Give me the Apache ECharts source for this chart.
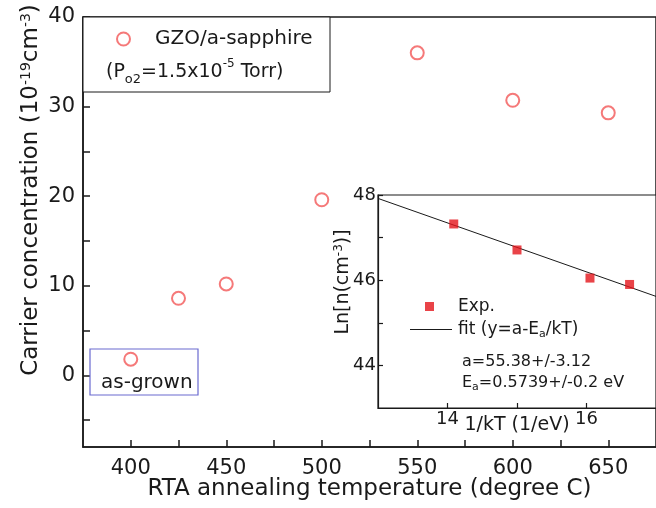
<!DOCTYPE html>
<html><head><meta charset="utf-8">
<script src="https://cdn.jsdelivr.net/npm/echarts@6/dist/echarts.min.js"></script>
<style>html,body{margin:0;padding:0;background:#fff}#c{width:656px;height:508px}</style>
</head><body><div id="c"></div>
<script>
// Main chart data
const temps = [400, 425, 450, 500, 550, 600, 650];
const carrier = [1.8, 8.6, 10.2, 19.6, 36.0, 30.7, 29.3];
const xTickLabels = [400, 450, 500, 550, 600, 650];
const xTicks = [400, 425, 450, 475, 500, 525, 550, 575, 600, 625, 650];
const yTickLabels = [0, 10, 20, 30, 40];
const yTicks = [-5, 0, 5, 10, 15, 20, 25, 30, 35, 40];
// Inset data
const invKT = [14.09, 15.0, 16.05, 16.62];
const lnN = [47.32, 46.71, 46.05, 45.9];
const fitX = [13, 17];
const fitY = [47.92, 45.62];
const insetXTickLabels = [14, 16];
const insetXTicks = [14, 15, 16];
const insetYTickLabels = [44, 46, 48];
const insetYTicks = [44, 45, 46, 47, 48];

const FF = 'DejaVu Sans';
const INK = '#1a1a1a';
const RED_O = '#f25858';
const RED_S = '#e3141a';
const chart = echarts.init(document.getElementById('c'));

const axisCommon = {
  axisLine: { show: true, onZero: false, lineStyle: { color: INK, width: 1.5 } },
  splitLine: { show: false },
};

chart.setOption({
  animation: false,
  backgroundColor: '#fff',
  grid: [
    { left: 83, top: 17, width: 576, height: 430, show: true, backgroundColor: '#fff', borderColor: INK, borderWidth: 1.5 },
    { left: 378, top: 195, width: 282, height: 213, show: true, backgroundColor: '#fff', borderColor: INK, borderWidth: 1.2 }
  ],
  xAxis: [
    Object.assign({}, axisCommon, {
      type: 'value', gridIndex: 0, min: 375, max: 675,
      axisTick: { show: true, inside: true, length: 7, customValues: xTicks, lineStyle: { color: INK, width: 1.5 } },
      axisLabel: { customValues: xTickLabels, fontSize: 21, fontFamily: FF, color: INK, margin: 11 },
      name: 'RTA annealing temperature (degree C)', nameLocation: 'middle', nameGap: 31, nameMoveOverlap: false,
      nameTextStyle: { fontSize: 23, fontFamily: FF, color: INK }
    }),
    Object.assign({}, axisCommon, {
      type: 'value', gridIndex: 1, min: 13, max: 17,
      axisLine: { show: true, onZero: false, lineStyle: { color: INK, width: 1.2 } },
      axisTick: { show: true, inside: true, length: 5, customValues: insetXTicks, lineStyle: { color: INK, width: 1.2 } },
      axisLabel: { customValues: insetXTickLabels, fontSize: 18, fontFamily: FF, color: INK, margin: 2 },
      name: '1/kT (1/eV)', nameLocation: 'middle', nameGap: 8, nameMoveOverlap: false,
      nameTextStyle: { fontSize: 19, fontFamily: FF, color: INK }
    })
  ],
  yAxis: [
    Object.assign({}, axisCommon, {
      type: 'value', gridIndex: 0, min: -8, max: 40,
      axisTick: { show: true, inside: true, length: 7, customValues: yTicks, lineStyle: { color: INK, width: 1.5 } },
      axisLabel: { customValues: yTickLabels, fontSize: 21, fontFamily: FF, color: INK, margin: 8 }
    }),
    Object.assign({}, axisCommon, {
      type: 'value', gridIndex: 1, min: 43, max: 48,
      axisLine: { show: true, onZero: false, lineStyle: { color: INK, width: 1.2 } },
      axisTick: { show: true, inside: true, length: 5, customValues: insetYTicks, lineStyle: { color: INK, width: 1.2 } },
      axisLabel: { customValues: insetYTickLabels, fontSize: 18, fontFamily: FF, color: INK, margin: 2 }
    })
  ],
  legend: [
    {
      data: ['GZO/a-sapphire'], left: 116, top: 29, itemWidth: 13, itemHeight: 13,
      selectedMode: false, padding: 0,
      textStyle: { fontSize: 20, fontFamily: FF, color: INK, padding: [0, 0, 0, 20] }
    },
    {
      data: [{ name: 'Exp.', icon: 'rect' }], left: 425, top: 298, itemWidth: 9, itemHeight: 9,
      selectedMode: false, padding: 0,
      textStyle: { fontSize: 17, fontFamily: FF, color: INK, padding: [0, 0, 0, 19] }
    },
    {
      data: [{ name: 'fit', icon: 'rect' }], left: 410, top: 321, itemWidth: 42, itemHeight: 1.2,
      selectedMode: false, padding: 0,
      formatter: () => '{t|fit (y=a-E}{s|a}{t|/kT)}',
      textStyle: { fontSize: 17, fontFamily: FF, color: INK, padding: [0, 0, 0, 1],
        rich: { t: { fontSize: 17, fontFamily: FF, color: INK }, s: { fontSize: 11, fontFamily: FF, color: INK, verticalAlign: 'bottom', padding: [9, 0, 0, 0] } } }
    }
  ],
  series: [
    {
      name: 'GZO/a-sapphire', type: 'scatter', xAxisIndex: 0, yAxisIndex: 0,
      data: temps.map((t, i) => [t, carrier[i]]),
      symbol: 'emptyCircle', symbolSize: 13,
      itemStyle: { color: RED_O, borderColor: RED_O, borderWidth: 1.4 }
    },
    {
      name: 'Exp.', type: 'scatter', xAxisIndex: 1, yAxisIndex: 1,
      data: invKT.map((x, i) => [x, lnN[i]]),
      symbol: 'rect', symbolSize: 9, z: 5,
      itemStyle: { color: RED_S }
    },
    {
      name: 'fit', type: 'line', xAxisIndex: 1, yAxisIndex: 1,
      data: fitX.map((x, i) => [x, fitY[i]]),
      symbol: 'none', lineStyle: { color: INK, width: 1 }, itemStyle: { color: INK }
    }
  ],
  graphic: [
    { type: 'rect', z: 3, shape: { x: 83, y: 17, width: 247, height: 75 },
      style: { fill: '#fff', stroke: INK, lineWidth: 1 } },
    { type: 'text', z: 10, x: 106, y: 72,
      style: { text: '{t|(P}{sub|o2}{t|=1.5x10}{sup|-5}{t| Torr)}', align: 'left', verticalAlign: 'middle',
        rich: { t: { fontSize: 19, fontFamily: FF, fill: INK }, sub: { fontSize: 13, fontFamily: FF, fill: INK, verticalAlign: 'bottom', padding: [15, 0, 0, 0] }, sup: { fontSize: 12, fontFamily: FF, fill: INK, verticalAlign: 'top', padding: [0, 0, 8, 0] } } } },
    { type: 'rect', z: 3, shape: { x: 90, y: 349, width: 108, height: 46 },
      style: { fill: 'none', stroke: '#6a6ad0', lineWidth: 1.2 } },
    { type: 'text', z: 10, x: 101, y: 383,
      style: { text: 'as-grown', align: 'left', verticalAlign: 'middle', fontSize: 20, fontFamily: FF, fill: INK } },
    { type: 'text', z: 10, x: 31, y: 190, rotation: Math.PI / 2,
      style: { text: '{t|Carrier concentration (10}{sup|-19}{t|cm}{sup|-3}{t|)}', align: 'center', verticalAlign: 'middle',
        rich: { t: { fontSize: 23, fontFamily: FF, fill: INK }, sup: { fontSize: 14, fontFamily: FF, fill: INK, verticalAlign: 'top', padding: [0, 0, 10, 0] } } } },
    { type: 'text', z: 10, x: 343, y: 282, rotation: Math.PI / 2,
      style: { text: '{t|Ln[n(cm}{sup|-3}{t|)]}', align: 'center', verticalAlign: 'middle',
        rich: { t: { fontSize: 19, fontFamily: FF, fill: INK }, sup: { fontSize: 12, fontFamily: FF, fill: INK, verticalAlign: 'top', padding: [0, 0, 8, 0] } } } },
    { type: 'text', z: 10, x: 462, y: 362,
      style: { text: 'a=55.38+/-3.12', align: 'left', verticalAlign: 'middle', fontSize: 16, fontFamily: FF, fill: INK } },
    { type: 'text', z: 10, x: 462, y: 383,
      style: { text: '{t|E}{sub|a}{t|=0.5739+/-0.2 eV}', align: 'left', verticalAlign: 'middle',
        rich: { t: { fontSize: 16, fontFamily: FF, fill: INK }, sub: { fontSize: 11, fontFamily: FF, fill: INK, verticalAlign: 'bottom', padding: [9, 0, 0, 0] } } } }
  ]
});
</script>
</body></html>
